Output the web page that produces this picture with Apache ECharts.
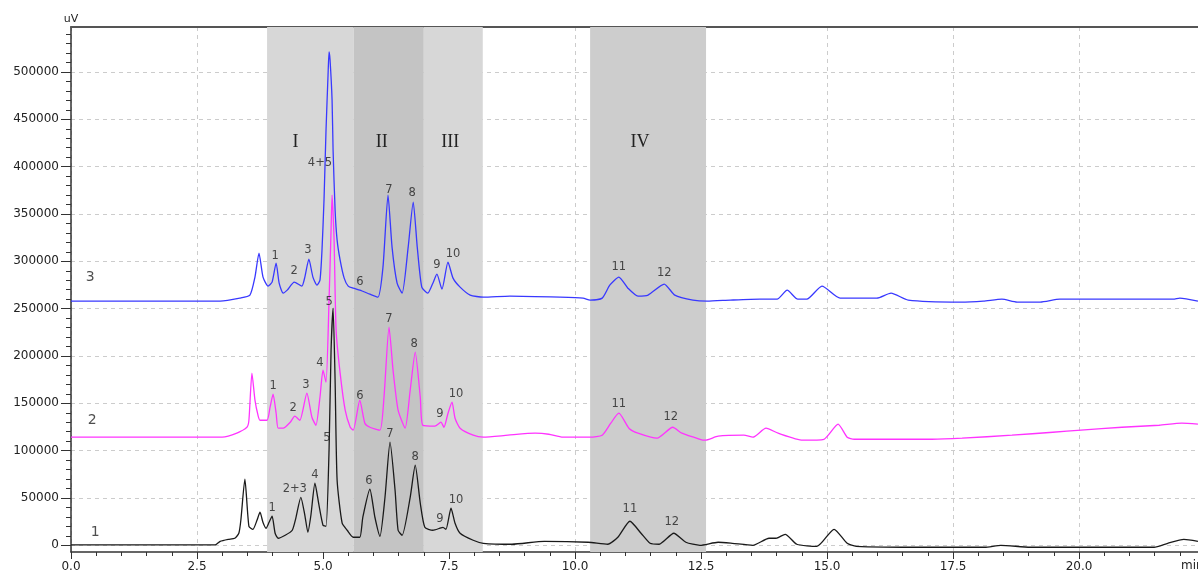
<!DOCTYPE html>
<html><head><meta charset="utf-8">
<script src="https://cdn.jsdelivr.net/npm/echarts@6/dist/echarts.min.js"></script>
<style>html,body{margin:0;padding:0;background:#fff;overflow:hidden}#c{width:1198px;height:576px}</style>
</head><body><div id="c"></div>
<script>
// Trace 1 (black): [time min, signal uV]
const trace1 = [[0,500],[2.86,500],[2.96,4200],[3.12,6300],[3.25,7400],[3.33,12700],[3.37,26400],[3.45,69800],[3.53,20000],[3.61,16900],[3.69,26400],[3.75,34900],[3.81,24000],[3.87,18000],[3.93,24300],[3.99,30700],[4.05,12700],[4.11,7400],[4.25,10600],[4.39,15900],[4.46,28500],[4.56,50700],[4.64,31700],[4.70,13700],[4.76,31700],[4.84,65500],[4.92,42300],[5.00,21100],[5.06,20100],[5.12,100400],[5.16,206100],[5.20,250500],[5.24,174400],[5.28,68700],[5.38,23300],[5.48,15900],[5.60,8500],[5.73,8500],[5.79,29600],[5.93,59200],[6.03,29600],[6.13,9500],[6.23,50700],[6.33,108900],[6.43,58100],[6.49,15900],[6.57,10600],[6.73,50700],[6.83,84600],[6.93,44400],[7.02,19000],[7.18,15900],[7.32,18000],[7.38,19000],[7.44,16900],[7.54,39100],[7.62,23300],[7.72,12700],[7.98,5300],[8.18,2100],[8.75,1100],[9.39,4200],[10.26,3200],[10.65,1100],[10.85,8500],[11.09,25400],[11.31,12700],[11.49,2100],[11.67,1100],[11.96,12700],[12.20,3200],[12.48,0],[12.84,3200],[13.12,2100],[13.53,0],[13.85,7400],[13.99,7400],[14.17,11600],[14.40,1100],[14.80,-1100],[15.14,16900],[15.40,2100],[15.58,-1100],[16.98,-2100],[18.13,-2100],[18.45,0],[19.03,-2100],[21.49,-2100],[21.76,2100],[22.08,6300],[22.36,4200]];
// Trace 2 (magenta)
const trace2 = [[0,114200],[3.00,114200],[3.29,118400],[3.49,124700],[3.53,132100],[3.59,181800],[3.65,153300],[3.71,137400],[3.75,132100],[3.89,132100],[3.95,145900],[4.01,159600],[4.07,139500],[4.11,123700],[4.21,123700],[4.35,130000],[4.44,136400],[4.54,132100],[4.68,160700],[4.78,135300],[4.86,126800],[4.94,156400],[5.00,185000],[5.06,172300],[5.12,259000],[5.16,333000],[5.18,370000],[5.22,322400],[5.26,227300],[5.34,181800],[5.44,142700],[5.54,124700],[5.60,121600],[5.73,153300],[5.83,129000],[5.93,124700],[6.13,121600],[6.21,156400],[6.31,230400],[6.39,185000],[6.49,142700],[6.63,123700],[6.73,163800],[6.83,204000],[6.93,156400],[6.98,126800],[7.22,125800],[7.34,130000],[7.40,124700],[7.48,139500],[7.56,151200],[7.62,134200],[7.72,123700],[7.98,116300],[8.18,114200],[8.67,116300],[9.21,118400],[9.48,117300],[9.76,114200],[10.30,114200],[10.54,116300],[10.71,129000],[10.87,139500],[11.07,123700],[11.25,118400],[11.63,113100],[11.94,124700],[12.12,118400],[12.48,112000],[12.58,111000],[12.84,115200],[13.35,116300],[13.53,114200],[13.79,123700],[14.03,118400],[14.52,111000],[14.94,112000],[15.22,127900],[15.40,114200],[15.54,112000],[17.08,112000],[17.68,113100],[18.67,116300],[19.48,119400],[20.04,121600],[20.85,124700],[21.59,126800],[22.04,129000],[22.36,127900]];
// Trace 3 (blue)
const trace3 = [[0,257900],[2.96,257900],[3.35,261100],[3.55,264300],[3.65,283300],[3.73,308600],[3.81,283300],[3.91,273800],[3.99,278000],[4.07,298100],[4.13,276900],[4.21,266400],[4.29,269500],[4.43,278000],[4.58,273800],[4.64,283300],[4.72,302300],[4.80,283300],[4.88,274800],[4.94,280100],[4.98,311800],[5.02,364700],[5.06,438700],[5.10,496800],[5.12,521100],[5.14,512600],[5.18,470400],[5.20,417500],[5.24,354100],[5.28,322400],[5.34,301200],[5.42,282200],[5.50,273800],[5.60,271600],[5.73,269500],[5.93,265300],[6.09,262100],[6.19,293800],[6.29,370000],[6.37,315000],[6.47,276900],[6.57,266400],[6.69,315000],[6.79,362600],[6.87,315000],[6.96,272700],[7.08,266400],[7.18,276900],[7.26,286400],[7.36,270600],[7.48,299100],[7.58,282200],[7.72,272700],[7.92,264300],[8.18,262100],[8.71,263200],[9.70,262100],[10.16,261100],[10.30,259000],[10.54,261100],[10.69,274800],[10.87,283300],[11.05,271600],[11.25,263200],[11.45,264300],[11.77,275900],[11.98,264300],[12.34,259000],[12.62,257900],[13.08,259000],[13.67,260000],[14.01,260000],[14.21,269500],[14.42,260000],[14.60,260000],[14.90,273800],[15.26,261100],[15.99,261100],[16.27,266400],[16.61,259000],[17.64,256900],[18.10,257900],[18.47,260000],[18.77,256900],[19.23,256900],[19.62,260000],[21.87,260000],[22.00,261100],[22.36,257900]];

// Peak labels: [time, signal, text]
const labels1 = [[3.99,39100,'1'],[4.44,59200,'2+3'],[4.84,74000,'4'],[5.08,113100,'5'],[5.91,67600,'6'],[6.33,117300,'7'],[6.83,93000,'8'],[7.32,27500,'9'],[7.64,47600,'10'],[11.09,38100,'11'],[11.92,24300,'12']];
const labels2 = [[4.01,168100,'1'],[4.41,144800,'2'],[4.66,169100,'3'],[4.94,192400,'4'],[5.12,256900,'5'],[5.73,157500,'6'],[6.31,238900,'7'],[6.81,212500,'8'],[7.32,138500,'9'],[7.64,159600,'10'],[10.87,149000,'11'],[11.90,135300,'12']];
const labels3 = [[4.05,305500,'1'],[4.43,289600,'2'],[4.70,311800,'3'],[4.94,403800,'4+5'],[5.73,278000,'6'],[6.31,375200,'7'],[6.77,372100,'8'],[7.26,296000,'9'],[7.58,307600,'10'],[10.87,293800,'11'],[11.77,287500,'12']];
const traceNames = [[0.38,283300,'3'],[0.42,132100,'2'],[0.48,13700,'1']];

// Shaded fractions: [start, end, name]
const regions = [[3.89,5.61,'I'],[5.61,7.00,'II'],[7.00,8.17,'III'],[10.30,12.60,'IV']];
const regionColors = ['#d7d7d7','#c4c4c4','#d7d7d7','#cdcdcd'];
const regionLabelShift = [-15,-7,-3,-8];

const yMajorTicks = [0,50000,100000,150000,200000,250000,300000,350000,400000,450000,500000];
const yMinorTicks = [0,10000,20000,30000,40000,50000,60000,70000,80000,90000,100000,110000,120000,130000,140000,150000,160000,170000,180000,190000,200000,210000,220000,230000,240000,250000,260000,270000,280000,290000,300000,310000,320000,330000,340000,350000,360000,370000,380000,390000,400000,410000,420000,430000,440000,450000,460000,470000,480000,490000,500000,510000,520000,530000,540000];

const FONT = 'DejaVu Sans';
const chart = echarts.init(document.getElementById('c'));

function labelSeries(arr, size) {
  return {
    type: 'scatter', data: arr, symbolSize: 0, z: 6, silent: true,
    label: { show: true, position: 'inside', formatter: p => p.value[2],
      color: '#222', fontSize: size, fontFamily: FONT }
  };
}

chart.setOption({
  animation: false,
  backgroundColor: '#fff',
  grid: { left: 71, top: 27, width: 1134, bottom: 24, containLabel: false, outerBoundsMode: 'none' },
  xAxis: [{
    type: 'value', min: 0, max: 22.5, interval: 2.5,
    axisLine: { show: true, onZero: false, lineStyle: { color: '#333', width: 1.5 } },
    axisTick: { show: true, length: 7, lineStyle: { color: '#333' } },
    minorTick: { show: true, splitNumber: 5, length: 4, lineStyle: { color: '#333' } },
    axisLabel: { showMaxLabel: false, formatter: v => v.toFixed(1), color: '#222', fontSize: 12, fontFamily: FONT, margin: 9 },
    splitLine: { show: true, lineStyle: { type: [4, 4], color: '#cccccc' } }
  }, {
    type: 'value', position: 'top', min: 0, max: 22.5,
    axisLine: { show: true, onZero: false, lineStyle: { color: '#555', width: 2 } },
    axisTick: { show: false }, axisLabel: { show: false }, splitLine: { show: false }
  }],
  yAxis: [{
    type: 'value', min: -7100, max: 547500,
    name: 'uV', nameLocation: 'end', nameGap: 2,
    nameTextStyle: { color: '#222', fontSize: 11, fontFamily: FONT },
    axisLine: { show: true, onZero: false, lineStyle: { color: '#333', width: 1.5 } },
    axisTick: { show: true, length: 10, customValues: yMajorTicks, lineStyle: { color: '#333' } },
    axisLabel: { customValues: yMajorTicks, formatter: v => String(v), color: '#222', fontSize: 12, fontFamily: FONT, margin: 12 },
    splitLine: { show: true, lineStyle: { type: [4, 4], color: '#cccccc' } }
  }, {
    type: 'value', min: -7100, max: 547500, position: 'left',
    axisLine: { show: false },
    axisTick: { show: true, length: 5, customValues: yMinorTicks, lineStyle: { color: '#333' } },
    axisLabel: { show: false }, splitLine: { show: false }
  }],
  graphic: [{ type: 'text', left: 1181, top: 560, style: { text: 'min', fontSize: 12, fontFamily: FONT, fill: '#222' } }],
  series: [
    {
      type: 'line', data: [], z: -1, silent: true,
      markArea: {
        silent: true,
        data: regions.map((r, i) => [{
          xAxis: r[0], name: r[2],
          itemStyle: { color: regionColors[i] },
          label: { show: true, position: 'insideTop', distance: 106, offset: [regionLabelShift[i], 0],
            formatter: r[2], color: '#222', fontSize: 18, fontFamily: 'Liberation Serif' }
        }, { xAxis: r[1] }])
      }
    },
    { type: 'line', data: trace1, symbol: 'none', smooth: 0.2, z: 3, lineStyle: { color: '#1a1a1a', width: 1.3 } },
    { type: 'line', data: trace2, symbol: 'none', smooth: 0.2, z: 3, lineStyle: { color: '#ff33ff', width: 1.3 } },
    { type: 'line', data: trace3, symbol: 'none', smooth: 0.2, z: 3, lineStyle: { color: '#3838ff', width: 1.3 } },
    labelSeries(labels1, 11.5), labelSeries(labels2, 11.5), labelSeries(labels3, 11.5),
    labelSeries(traceNames, 14)
  ]
});
</script></body></html>
